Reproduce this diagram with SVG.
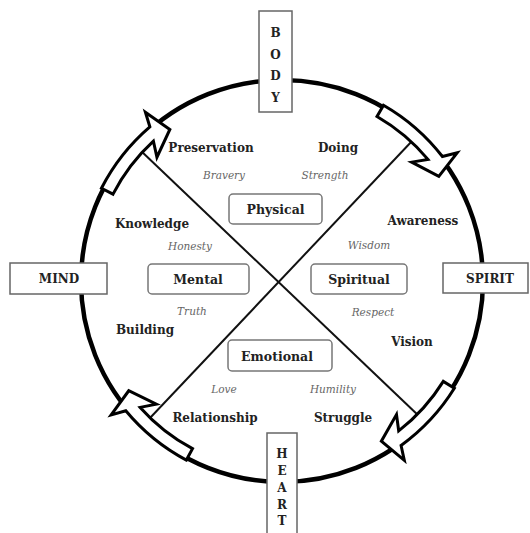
<svg xmlns="http://www.w3.org/2000/svg" xmlns:xlink="http://www.w3.org/1999/xlink" width="530" height="533" viewBox="0 0 530 533">
<style>
text{font-family:"DejaVu Serif","Liberation Serif",serif;text-anchor:middle}
.lbl{font-weight:bold;font-size:12px;fill:#222}
.val{font-style:italic;font-size:10.5px;fill:#666}
.box{fill:#fff;stroke:#666;stroke-width:1.5}
.rbox{fill:#fff;stroke:#777;stroke-width:1.5}
.blbl{font-weight:bold;font-size:12.5px;fill:#222}
.olbl{font-weight:bold;font-size:12px;fill:#222}
.div{stroke:#111;stroke-width:2;fill:none}
.arw{fill:#fff;stroke:#000;stroke-width:3;stroke-linejoin:miter}
</style>
<defs>
<path id="arr" d="M 203,0 A 203 203 0 0 1 188.0,76.7 L 198.6,87.6 L 169.0,83.5 L 167.8,52.9 L 178.3,65.6 A 190 190 0 0 0 190,0 Z"/>
</defs>
<rect width="530" height="533" fill="#fff"/>
<circle id="wheel" cx="282" cy="281" r="201" fill="none" stroke="#000" stroke-width="4.5"/>
<g id="dividers">
<line class="div" x1="140" y1="150" x2="420" y2="417"/>
<line class="div" x1="413" y1="140" x2="150" y2="418"/>
</g>
<g id="connectors">
<use xlink:href="#arr" class="arw" transform="translate(282 281) rotate(207.2)"/>
<use xlink:href="#arr" class="arw" transform="translate(282 281) rotate(300)"/>
<use xlink:href="#arr" class="arw" transform="translate(282 281) rotate(31.9)"/>
<use xlink:href="#arr" class="arw" transform="translate(282 281) rotate(118.1)"/>
</g>
<g id="body">
<rect class="box" x="259" y="11" width="33" height="101"/>
<text class="olbl" x="275.5" y="37">B</text>
<text class="olbl" x="275.5" y="58.5">O</text>
<text class="olbl" x="275.5" y="80">D</text>
<text class="olbl" x="275.5" y="101.5">Y</text>
</g>
<g id="heart">
<rect class="box" x="267" y="433" width="30" height="110"/>
<text class="olbl" x="282" y="457.5">H</text>
<text class="olbl" x="282" y="475">E</text>
<text class="olbl" x="282" y="491.5">A</text>
<text class="olbl" x="282" y="508.5">R</text>
<text class="olbl" x="282" y="525">T</text>
</g>
<g id="mind">
<rect class="box" x="10" y="263" width="97" height="31"/>
<text class="olbl" x="59" y="283">MIND</text>
</g>
<g id="spirit">
<rect class="box" x="443" y="263" width="85" height="30"/>
<text class="olbl" x="490" y="283">SPIRIT</text>
</g>
<g id="physical">
<rect class="rbox" x="229" y="194" width="93" height="30" rx="4"/>
<text class="blbl" x="275.5" y="214">Physical</text>
</g>
<g id="mental">
<rect class="rbox" x="148" y="264" width="101" height="30" rx="4"/>
<text class="blbl" x="198" y="284">Mental</text>
</g>
<g id="spiritual">
<rect class="rbox" x="311" y="264" width="96" height="30" rx="4"/>
<text class="blbl" x="359" y="284">Spiritual</text>
</g>
<g id="emotional">
<rect class="rbox" x="228" y="340" width="104" height="31" rx="4"/>
<text class="blbl" x="277" y="361">Emotional</text>
</g>
<g id="labels">
<text class="lbl" x="211" y="152">Preservation</text>
<text class="lbl" x="338" y="152">Doing</text>
<text class="val" x="224" y="179">Bravery</text>
<text class="val" x="325" y="179">Strength</text>
<text class="lbl" x="152" y="228">Knowledge</text>
<text class="val" x="190" y="250">Honesty</text>
<text class="val" x="192" y="315">Truth</text>
<text class="lbl" x="145" y="334">Building</text>
<text class="lbl" x="423" y="225">Awareness</text>
<text class="val" x="369" y="249">Wisdom</text>
<text class="val" x="373" y="316">Respect</text>
<text class="lbl" x="412" y="346">Vision</text>
<text class="val" x="224" y="393">Love</text>
<text class="val" x="333" y="393">Humility</text>
<text class="lbl" x="215" y="422">Relationship</text>
<text class="lbl" x="343" y="422">Struggle</text>
</g>
</svg>
